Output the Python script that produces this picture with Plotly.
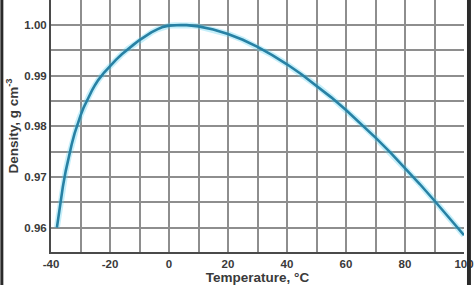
import plotly.graph_objects as go

temperature = [-38, -37, -36, -35, -34, -33, -32, -31, -30, -29, -28, -27, -26, -25, -24,
               -22, -20, -18, -16, -14, -12, -10, -8, -6, -4, -2, 0, 2, 4, 6, 8, 10, 15, 20,
               25, 30, 35, 40, 45, 50, 55, 60, 65, 70, 75, 80, 85, 90, 95, 100]
density = [0.9600, 0.9643, 0.9680, 0.9712, 0.9740, 0.9764, 0.9786, 0.9805, 0.9821,
           0.9836, 0.9849, 0.9861, 0.9872, 0.9882, 0.9891, 0.9906, 0.9919, 0.9931,
           0.9942, 0.9952, 0.9961, 0.9970, 0.9978, 0.9985, 0.9991, 0.9996, 0.99984,
           0.99994, 0.99997, 0.99994, 0.99985, 0.99970, 0.99910, 0.99820, 0.99705,
           0.99565, 0.99403, 0.99222, 0.99021, 0.98804, 0.98570, 0.98320, 0.98055,
           0.97776, 0.97484, 0.97179, 0.96861, 0.96531, 0.96189, 0.95850]

x_ticks = [-40, -20, 0, 20, 40, 60, 80, 100]
x_ticklabels = ["-40", "-20", "0", "20", "40", "60", "80", "100"]
y_ticks = [0.96, 0.97, 0.98, 0.99, 1.00]
y_ticklabels = ["0.96", "0.97", "0.98", "0.99", "1.00"]

fig = go.Figure()
# soft halo
fig.add_trace(go.Scatter(x=temperature, y=density, mode="lines",
                         line=dict(color="rgba(90,210,240,0.35)", width=6),
                         hoverinfo="skip", showlegend=False))
fig.add_trace(go.Scatter(x=temperature, y=density, mode="lines",
                         line=dict(color="#2781a4", width=2.6),
                         showlegend=False))

grid_color = "#8e8e8e"
tick_font = dict(family="Liberation Sans", size=11.5, color="#3a3a3a", weight="bold")
title_font = dict(family="Liberation Sans", size=13.5, color="#3a3a3a", weight="bold")

fig.update_layout(
    width=474, height=285,
    margin=dict(l=51, r=7, t=0, b=33),
    paper_bgcolor="white", plot_bgcolor="white",
    xaxis=dict(range=[-40, 100], tickvals=x_ticks, ticktext=x_ticklabels,
               ticklabeloverflow="allow",
               showgrid=True, gridcolor=grid_color, gridwidth=1.5,
               minor=dict(dtick=10, tick0=0, showgrid=True, gridcolor=grid_color, gridwidth=1.5),
               showline=True, linecolor="#4a4a4a", linewidth=2,
               zeroline=False, ticks="", tickfont=tick_font,
               title=dict(text="Temperature, °C", standoff=4, font=title_font)),
    yaxis=dict(range=[0.9552, 1.0049], tickvals=y_ticks, ticktext=y_ticklabels,
               showgrid=True, gridcolor=grid_color, gridwidth=1.5,
               minor=dict(dtick=0.005, tick0=0.96, showgrid=True, gridcolor=grid_color, gridwidth=1.5),
               showline=True, linecolor="#4a4a4a", linewidth=2,
               zeroline=False, ticks="", tickfont=tick_font,
               title=dict(text="Density, g cm<sup>-3</sup>", standoff=3, font=title_font)),
    shapes=[
        dict(type="rect", xref="paper", yref="paper", x0=-51/416, x1=-48/416, y0=-33/252, y1=1,
             fillcolor="#2a2a2a", line=dict(width=0), layer="above"),
        dict(type="rect", xref="paper", yref="paper", x0=1 + 3/416, x1=1 + 7/416, y0=-33/252, y1=1,
             fillcolor="#2a2a2a", line=dict(width=0), layer="above"),
    ],
)

fig.write_html("out.html")
